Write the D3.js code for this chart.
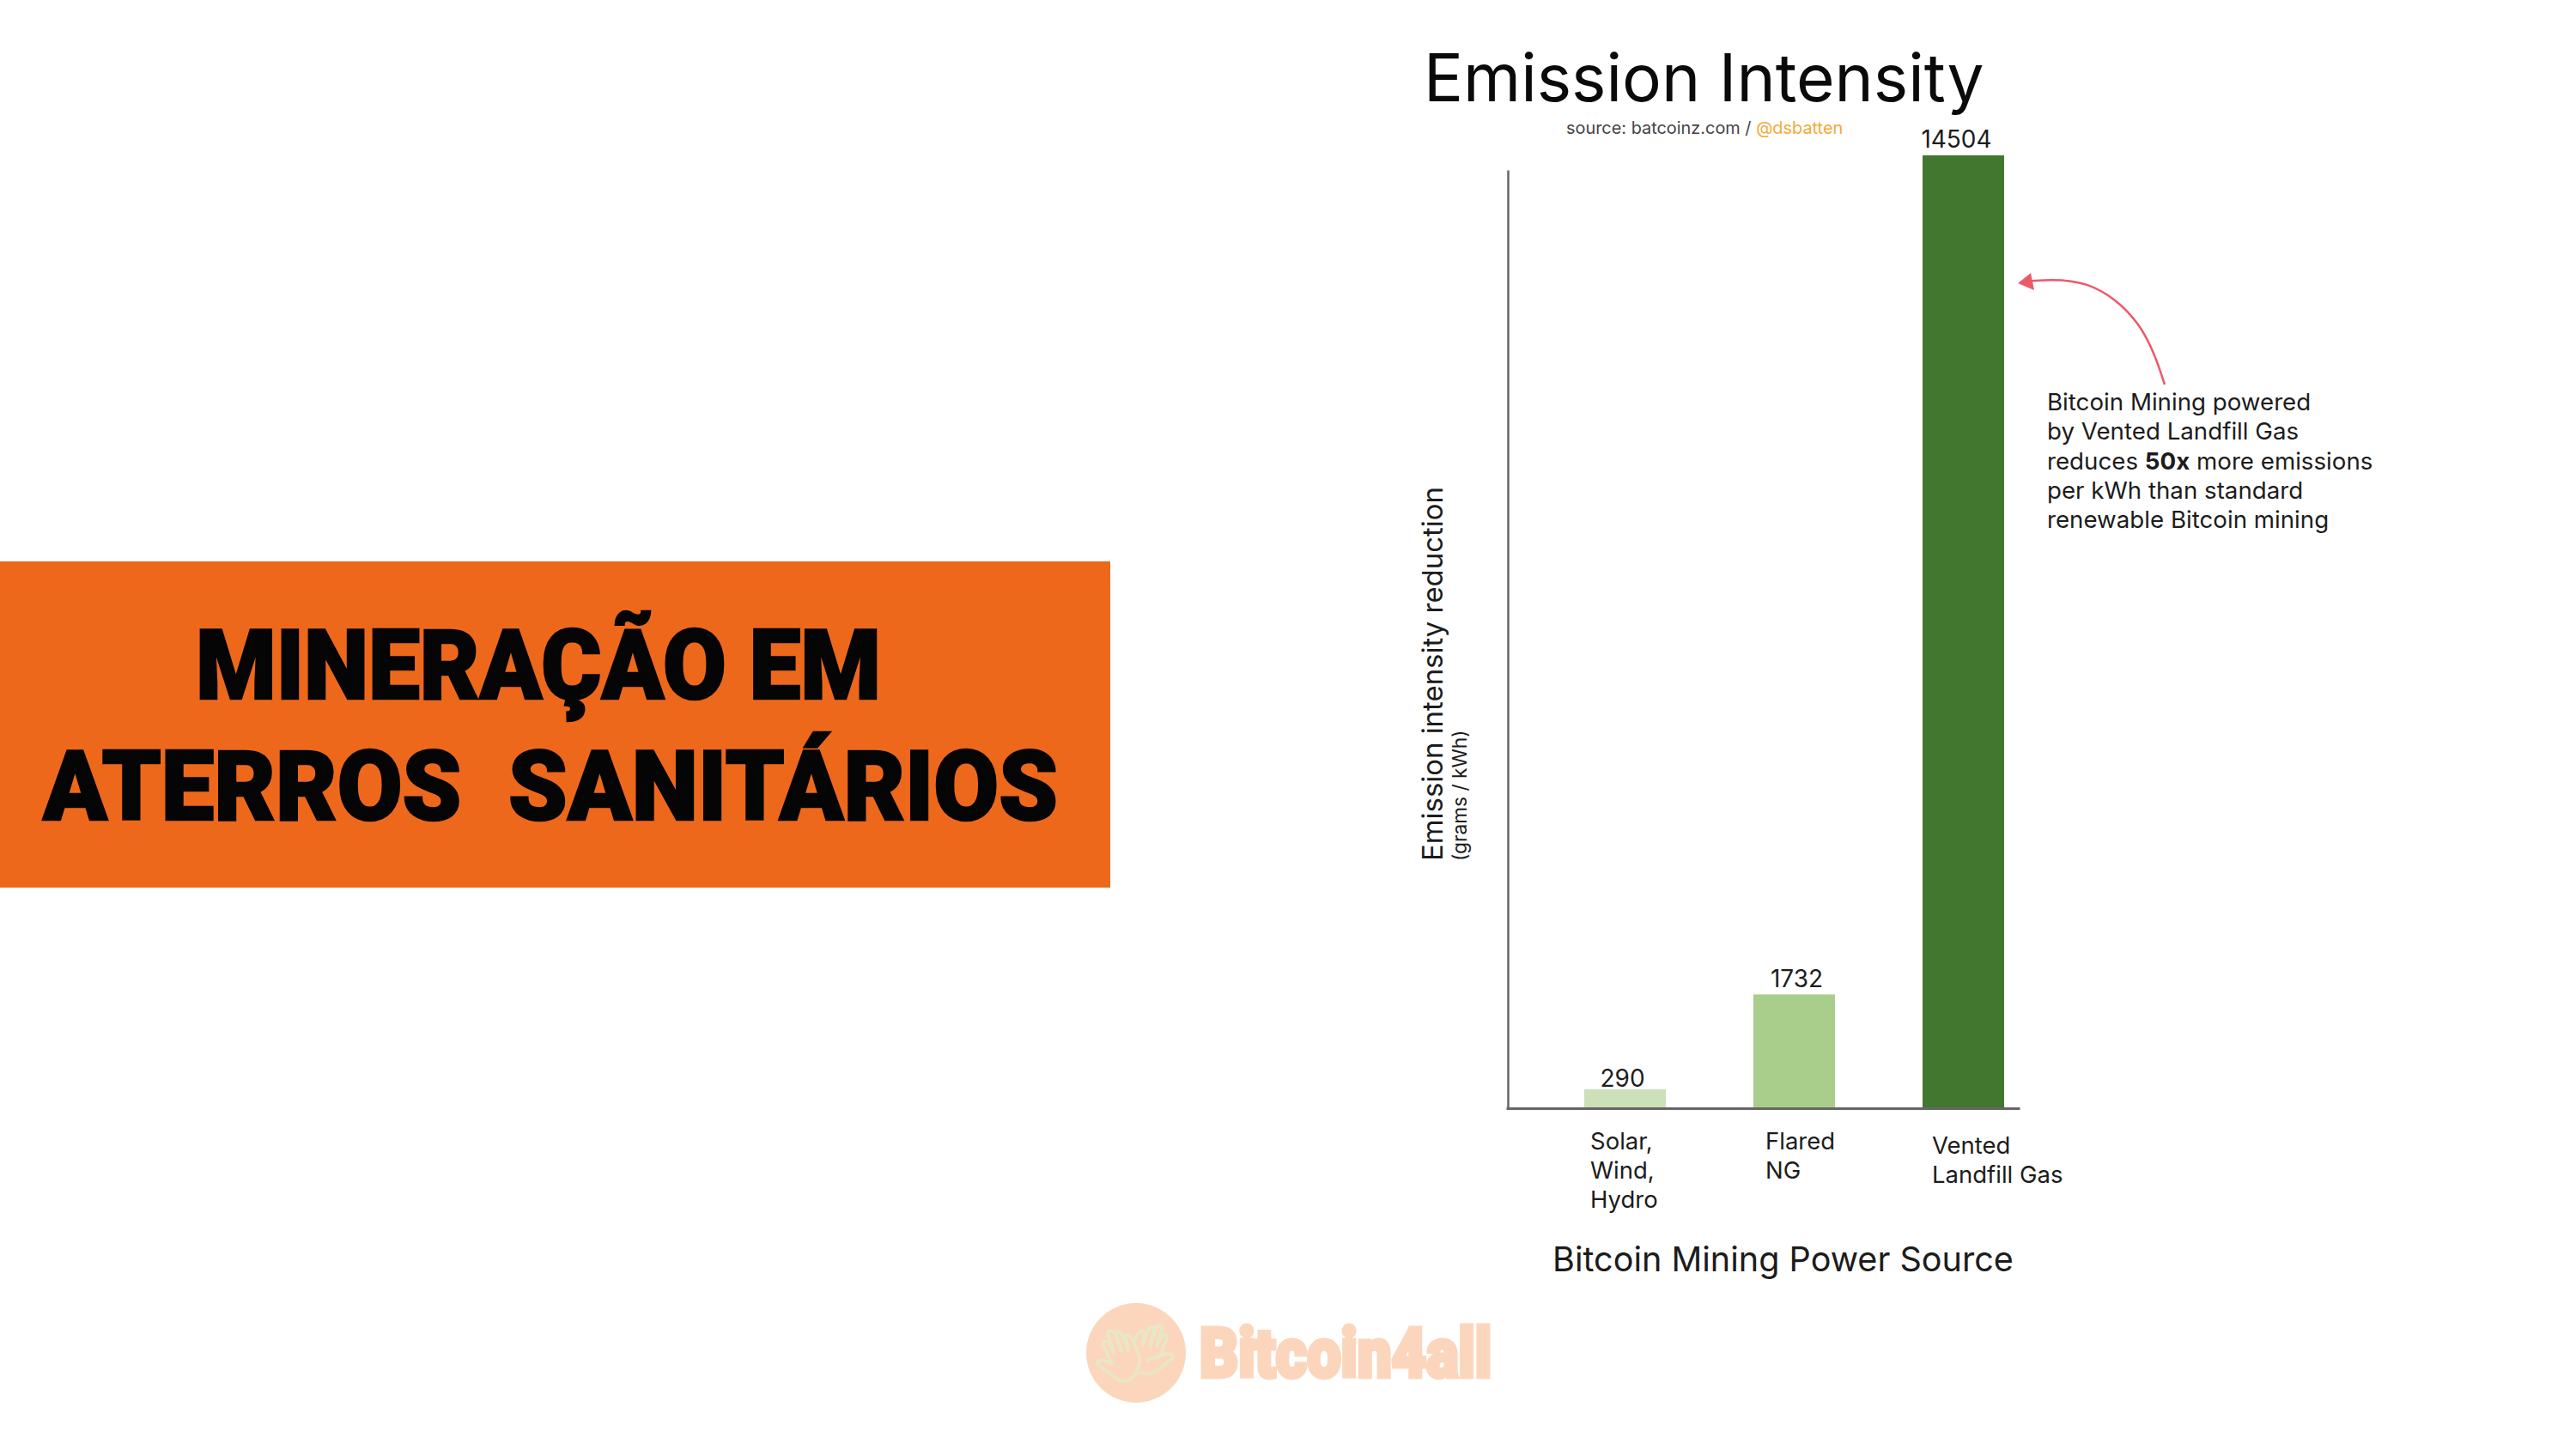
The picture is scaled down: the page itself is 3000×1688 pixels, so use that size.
<!DOCTYPE html>
<html>
<head>
<meta charset="utf-8">
<script src="https://d3js.org/d3.v7.min.js"></script>
<style>
html, body { margin: 0; padding: 0; background: #fff; }
svg { display: block; }
text { font-family: Inter, sans-serif; fill: #1c1c1c; white-space: pre; }
</style>
</head>
<body>
<div id="figure"></div>
<script>
var categories = ["Solar, Wind, Hydro", "Flared NG", "Vented Landfill Gas"];
var values = [290, 1732, 14504];
var categoryLines = [["Solar,", "Wind,", "Hydro"], ["Flared", "NG"], ["Vented", "Landfill Gas"]];
var barColors = ["#cde0ba", "#a9ce8c", "#41772f"];
var noteLines = [
	[["Bitcoin Mining powered", 400]],
	[["by Vented Landfill Gas", 400]],
	[["reduces ", 400], ["50x", 700], [" more emissions", 400]],
	[["per kWh than standard", 400]],
	[["renewable Bitcoin mining", 400]]
];
var bannerLines = ["MINERAÇÃO EM", "ATERROS  SANITÁRIOS"];

var w = 3000, h = 1688;
var base = 1291;

var svg = d3.select("#figure").append("svg").attr("width", w).attr("height", h);

// orange banner on the left
svg.append("rect").attr("x", 0).attr("y", 654).attr("width", 1293).attr("height", 380).attr("fill", "#ee681c");
var bannerPos = [[228, 814, 798], [50, 955, 1182]];
svg.selectAll("text.banner")
	.data(bannerLines)
	.enter()
	.append("text")
	.attr("class", "banner")
	.text(function(d) { return d; })
	.attr("x", function(d, i) { return bannerPos[i][0]; })
	.attr("y", function(d, i) { return bannerPos[i][1]; })
	.attr("textLength", function(d, i) { return bannerPos[i][2]; })
	.attr("lengthAdjust", "spacingAndGlyphs")
	.style("font-family", "Roboto, sans-serif")
	.style("font-weight", 900)
	.style("font-size", "113px")
	.style("fill", "#050505")
	.style("stroke", "#050505")
	.style("stroke-width", 2.5);

// scales
var x = d3.scaleBand().domain(categories).range([1845, 2334]).paddingInner(102 / 197).paddingOuter(0);
var y = d3.scaleLinear().domain([0, 14504]).range([base, 181]);

// bars
svg.selectAll("rect.bar")
	.data(values)
	.enter()
	.append("rect")
	.attr("class", "bar")
	.attr("x", function(d, i) { return x(categories[i]); })
	.attr("y", function(d) { return y(d); })
	.attr("width", x.bandwidth())
	.attr("height", function(d) { return base - y(d); })
	.attr("fill", function(d, i) { return barColors[i]; });

// axes, no ticks on either of them
var yAxisScale = d3.scaleLinear().domain([0, y.invert(198)]).range([base, 198]);
var xAxisScale = d3.scaleLinear().domain([0, 1]).range([1754, 2352]);
svg.append("g").attr("transform", "translate(1756,0)")
	.call(d3.axisLeft(yAxisScale).tickValues([]).tickSizeOuter(0))
	.select("path").attr("stroke", "#666").attr("stroke-width", 2.5);
svg.append("g").attr("transform", "translate(0," + base + ")")
	.call(d3.axisBottom(xAxisScale).tickValues([]).tickSizeOuter(0))
	.select("path").attr("stroke", "#666").attr("stroke-width", 3);

// value labels
var labelShift = [-3, 3, -8];
var labelGap = [3, 8, 9];
svg.selectAll("text.value")
	.data(values)
	.enter()
	.append("text")
	.attr("class", "value")
	.text(function(d) { return d; })
	.attr("x", function(d, i) { return x(categories[i]) + x.bandwidth() / 2 + labelShift[i]; })
	.attr("y", function(d, i) { return y(d) - labelGap[i]; })
	.attr("text-anchor", "middle")
	.style("font-size", "28px");

// category labels
var catX = [1852, 2056, 2250];
var catY = [1339, 1339, 1344];
categoryLines.forEach(function(lines, i) {
	svg.selectAll("text.cat" + i)
		.data(lines)
		.enter()
		.append("text")
		.attr("class", "cat" + i)
		.text(function(d) { return d; })
		.attr("x", catX[i])
		.attr("y", function(d, j) { return catY[i] + j * 34; })
		.style("font-size", "27.5px");
});

// titles
svg.append("text").text("Emission Intensity")
	.attr("x", 1658).attr("y", 118)
	.style("font-size", "76.6px").style("fill", "#0a0a0a");

var src = svg.append("text").attr("x", 1824).attr("y", 156).style("font-size", "19.9px");
src.append("tspan").text("source: batcoinz.com / ").style("fill", "#444");
src.append("tspan").text("@dsbatten").style("fill", "#f4a93a");

svg.append("text").text("Bitcoin Mining Power Source")
	.attr("x", 1808).attr("y", 1481)
	.style("font-size", "39.6px");

svg.append("text").text("Emission intensity reduction")
	.attr("transform", "translate(1680,1003) rotate(-90)")
	.style("font-size", "32.9px");
svg.append("text").text("(grams / kWh)")
	.attr("transform", "translate(1708,1003) rotate(-90)")
	.style("font-size", "22.7px");

// note and arrow
var note = svg.selectAll("text.note")
	.data(noteLines)
	.enter()
	.append("text")
	.attr("class", "note")
	.attr("x", 2384)
	.attr("y", function(d, i) { return 478 + i * 34.3; })
	.style("font-size", "27.7px");
note.selectAll("tspan")
	.data(function(d) { return d; })
	.enter()
	.append("tspan")
	.text(function(d) { return d[0]; })
	.style("font-weight", function(d) { return d[1]; });

svg.append("path")
	.attr("d", d3.line().curve(d3.curveBasis)([[2529, 448], [2505, 375], [2440, 322], [2366, 328]]))
	.attr("fill", "none")
	.attr("stroke", "#ec5a68")
	.attr("stroke-width", 2.5)
	.attr("transform", "translate(-8,0)");
svg.append("path")
	.attr("d", "M2350,330L2365,318L2369,338Z")
	.attr("fill", "#ec5a68");

// logo
var logo = svg.append("g");
logo.append("circle").attr("cx", 1323).attr("cy", 1576).attr("r", 58).attr("fill", "#fcd6bc");
logo.append("g")
	.attr("transform", "translate(1240,1500) scale(0.3455,0.3333)")
	.selectAll("path")
	.data([
		"M250,270C245,310 215,330 190,325C170,322 140,290 112,268C105,255 125,245 160,268L130,200C125,185 145,180 155,205L165,225L145,160C150,145 165,150 170,165L190,220L172,160C178,150 190,155 195,170L215,220L205,170C212,160 225,170 232,190C245,220 258,245 250,270",
		"M255,295C290,310 310,295 365,245C372,232 345,225 320,240C300,250 285,245 278,255M320,240L345,175C345,160 335,160 328,170L310,205L330,140C325,130 315,130 308,145L288,205L303,140C295,135 285,138 278,155L262,200L268,155C258,148 248,155 240,175L232,190"
	])
	.enter()
	.append("path")
	.attr("d", function(d) { return d; })
	.attr("fill", "none")
	.attr("stroke", "#e8e7c5")
	.attr("stroke-width", 11)
	.attr("stroke-linejoin", "round")
	.attr("stroke-linecap", "round");
logo.append("text").text("Bitcoin4all")
	.attr("x", 1397).attr("y", 1604)
	.attr("textLength", 340)
	.attr("lengthAdjust", "spacingAndGlyphs")
	.style("font-family", "Roboto, sans-serif")
	.style("font-weight", 900)
	.style("font-size", "80px")
	.style("fill", "#fcd6bc")
	.style("stroke", "#fcd6bc")
	.style("stroke-width", 5);
</script>
</body>
</html>
